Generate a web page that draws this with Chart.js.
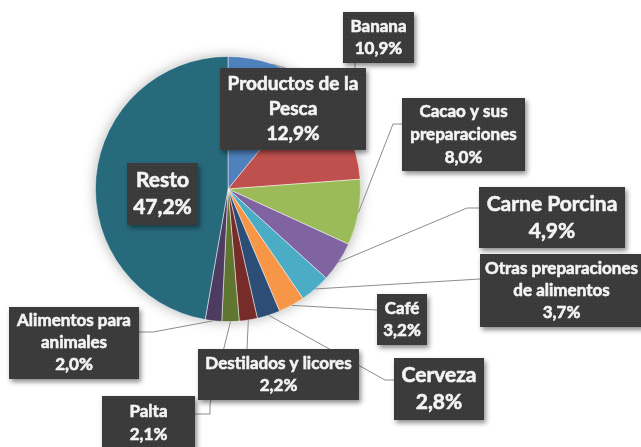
<!DOCTYPE html>
<html>
<head>
<meta charset="utf-8">
<script src="https://cdn.jsdelivr.net/npm/chart.js@4.4.0/dist/chart.umd.min.js"></script>
<style>
  html, body { margin: 0; padding: 0; background: #fff; }
</style>
</head>
<body>
<canvas id="torta" width="641" height="447"></canvas>
<script>
// datos
const categorias = [
  "Banana", "Productos de la Pesca", "Cacao y sus preparaciones", "Carne Porcina",
  "Otras preparaciones de alimentos", "Café", "Cerveza", "Destilados y licores",
  "Palta", "Alimentos para animales", "Resto"
];
const porcentajes = [10.9, 12.9, 8.0, 4.9, 3.7, 3.2, 2.8, 2.2, 2.1, 2.0, 47.2];
const colores = [
  "#4F81BD", "#C0504D", "#9BBB59", "#8064A2", "#4BACC6", "#F79646",
  "#2C4D75", "#772C2A", "#5F7530", "#4D3B62", "#276A7C"
];

// posicion de las etiquetas (cajas) y sus lineas guia
const cajas = [
  { x: 343, y: 12, w: 71, h: 51, size: 17, lh: 22, lines: ["Banana"], guia: [[355, 90], [355, 63]] },
  { x: 220, y: 68, w: 146, h: 82, size: 19, lh: 25, lines: ["Productos de la", "Pesca"], guia: null },
  { x: 402, y: 98, w: 123, h: 73, size: 17, lh: 23, lines: ["Cacao y sus", "preparaciones"], guia: [[393, 124], [402, 124]] },
  { x: 479, y: 187, w: 146, h: 61, size: 21, lh: 27, lines: ["Carne Porcina"], guia: [[467, 208], [479, 208]] },
  { x: 480, y: 254, w: 163, h: 73, size: 17, lh: 22, lines: ["Otras preparaciones", "de alimentos"], guia: [[480, 279]] },
  { x: 377, y: 294, w: 50, h: 51, size: 17, lh: 22, lines: ["Café"], guia: [[377, 310]] },
  { x: 394, y: 358, w: 90, h: 62, size: 21, lh: 27, lines: ["Cerveza"], guia: [[385, 380], [394, 380]] },
  { x: 198, y: 349, w: 161, h: 51, size: 17, lh: 22, lines: ["Destilados y licores"], guia: [[247, 349]] },
  { x: 102, y: 396, w: 93, h: 54, size: 17, lh: 23, lines: ["Palta"], guia: [[210, 404], [210, 414], [195, 414]] },
  { x: 9, y: 307, w: 130, h: 72, size: 17, lh: 22, lines: ["Alimentos para", "animales"], guia: [[153, 332], [139, 332]] },
  { x: 127, y: 163, w: 71, h: 62, size: 21, lh: 27, lines: ["Resto"], guia: null }
];

const formatoPct = (v) => v.toFixed(1).replace(".", ",") + "%";

// patron punteado de las cajas
const patronCanvas = document.createElement("canvas");
patronCanvas.width = 4;
patronCanvas.height = 4;
const pctx = patronCanvas.getContext("2d");
pctx.fillStyle = "#3a3a3a";
pctx.fillRect(0, 0, 4, 4);
pctx.fillStyle = "#474747";
pctx.fillRect(1, 1, 1, 1);

const sombraTorta = {
  id: "sombraTorta",
  beforeDatasetsDraw(chart) {
    const ctx = chart.ctx;
    const arco = chart.getDatasetMeta(0).data[0];
    const { x, y, outerRadius } = arco.getProps(["x", "y", "outerRadius"], true);
    ctx.save();
    ctx.shadowColor = "rgba(0,0,0,0.35)";
    ctx.shadowBlur = 14;
    ctx.beginPath();
    ctx.arc(x, y, outerRadius - 1, 0, Math.PI * 2);
    ctx.fillStyle = "#fff";
    ctx.fill();
    ctx.restore();
  }
};

const etiquetas = {
  id: "etiquetas",
  afterDatasetsDraw(chart) {
    const ctx = chart.ctx;
    const meta = chart.getDatasetMeta(0);

    // primero las lineas guia
    ctx.save();
    ctx.strokeStyle = "#8c8c8c";
    ctx.lineWidth = 1;
    meta.data.forEach((arco, i) => {
      const caja = cajas[i];
      if (!caja.guia) return;
      const p = arco.getProps(["x", "y", "startAngle", "endAngle", "outerRadius"], true);
      const medio = (p.startAngle + p.endAngle) / 2;
      ctx.beginPath();
      ctx.moveTo(p.x + Math.cos(medio) * p.outerRadius, p.y + Math.sin(medio) * p.outerRadius);
      caja.guia.forEach(([gx, gy]) => ctx.lineTo(gx, gy));
      ctx.stroke();
    });
    ctx.restore();

    // despues las cajas con texto
    const patron = ctx.createPattern(patronCanvas, "repeat");
    meta.data.forEach((arco, i) => {
      const caja = cajas[i];
      ctx.save();
      ctx.shadowColor = "rgba(0,0,0,0.45)";
      ctx.shadowBlur = 5;
      ctx.shadowOffsetX = 2;
      ctx.shadowOffsetY = 3;
      ctx.fillStyle = patron;
      ctx.fillRect(caja.x, caja.y, caja.w, caja.h);
      ctx.restore();

      const lineas = caja.lines.concat([formatoPct(porcentajes[i])]);
      ctx.save();
      ctx.fillStyle = "#f4f4f4";
      ctx.strokeStyle = "#f4f4f4";
      ctx.lineWidth = 0.6;
      ctx.font = "bold " + caja.size + "px Lato";
      ctx.textAlign = "center";
      ctx.textBaseline = "middle";
      const cx = caja.x + caja.w / 2;
      const y0 = caja.y + caja.h / 2 - (lineas.length * caja.lh) / 2 + caja.lh / 2;
      lineas.forEach((t, k) => {
        ctx.fillText(t, cx, y0 + k * caja.lh);
        ctx.strokeText(t, cx, y0 + k * caja.lh); // engrosar un poco el trazo
      });
      ctx.restore();
    });
  }
};

new Chart(document.getElementById("torta").getContext("2d"), {
  type: "pie",
  data: {
    labels: categorias,
    datasets: [{
      data: porcentajes,
      backgroundColor: colores,
      borderColor: "rgba(255,255,255,0.6)",
      borderWidth: 0.8
    }]
  },
  options: {
    responsive: false,
    animation: false,
    layout: { padding: { left: 95, right: 280, top: 56, bottom: 125 } },
    plugins: {
      legend: { display: false },
      tooltip: { enabled: false }
    }
  },
  plugins: [sombraTorta, etiquetas]
});
</script>
</body>
</html>
